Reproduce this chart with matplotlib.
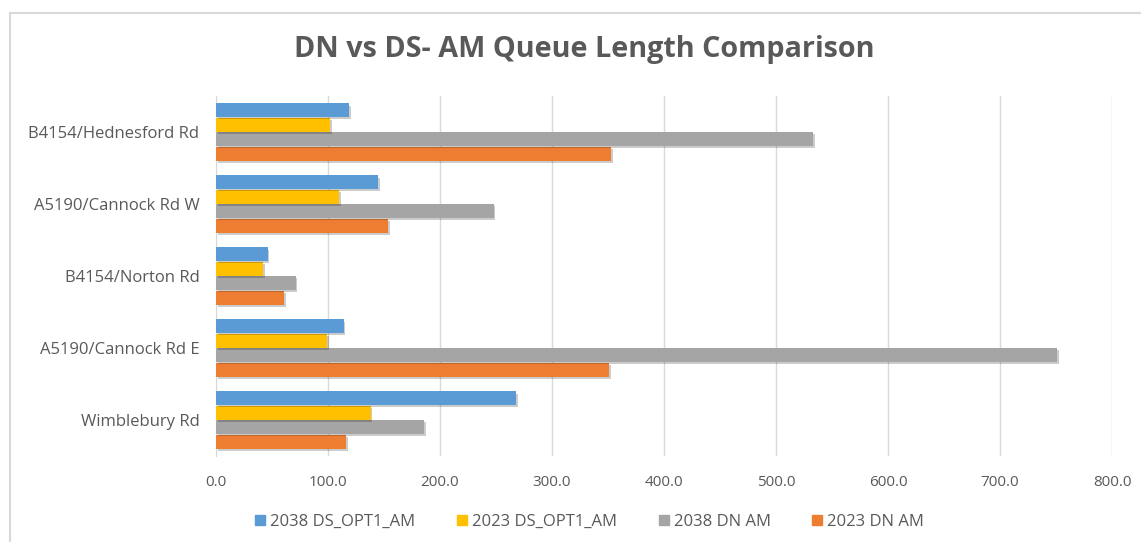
import matplotlib
matplotlib.use("Agg")
import matplotlib.pyplot as plt
import matplotlib.patheffects as pe
from matplotlib.lines import Line2D
import numpy as np

categories = ["Wimblebury Rd", "A5190/Cannock Rd E", "B4154/Norton Rd",
              "A5190/Cannock Rd W", "B4154/Hednesford Rd"]
series_names = ["2023 DN AM", "2038 DN AM", "2023 DS_OPT1_AM", "2038 DS_OPT1_AM"]
dn_2023 = [116, 351, 61, 154, 353]
dn_2038 = [186, 751, 71, 248, 533]
ds_2023 = [138, 99, 42, 110, 102]
ds_2038 = [268, 114, 46, 145, 119]
colors = ["#ED7D31", "#A5A5A5", "#FFC000", "#5B9BD5"]
xticks = [0, 100, 200, 300, 400, 500, 600, 700, 800]
title = "DN vs DS- AM Queue Length Comparison"

font = "Open Sans"
txt = "#595959"

W, H = 1141, 542
fig = plt.figure(figsize=(W / 100, H / 100), dpi=100)
ax = fig.add_axes([216 / W, 1 - 456 / H, (1112 - 216) / W, (456 - 96) / H])

y = np.arange(len(categories))
h = 0.2
data = [dn_2023, dn_2038, ds_2023, ds_2038]
for i, (vals, c, name) in enumerate(zip(data, colors, series_names)):
    offs = (i - 1.5) * h
    ax.barh(y + offs, vals, height=h * 0.96, color=c, label=name, zorder=3,
            path_effects=[pe.SimplePatchShadow(offset=(1.2, -1.5), shadow_rgbFace="#000000", alpha=0.2),
                          pe.Normal()])

ax.set_xlim(0, 800)
ax.set_ylim(-0.5, len(categories) - 0.5)
ax.set_xticks(xticks)
ax.set_xticklabels([f"{v:.1f}" for v in xticks], fontsize=11, color=txt, fontfamily=font)
ax.set_yticks(y)
ax.set_yticklabels(categories, fontsize=12, color=txt, fontfamily=font)
ax.tick_params(axis="both", length=0)
ax.tick_params(axis="y", pad=12)
ax.tick_params(axis="x", pad=14)
ax.grid(axis="x", color="#D9D9D9", linewidth=1, zorder=0)
for s in ["top", "right", "bottom"]:
    ax.spines[s].set_visible(False)
ax.spines["left"].set_color("#D9D9D9")
ax.set_axisbelow(True)

fig.text(584 / W, 1 - 50 / H, title, ha="center", va="center", fontsize=20.7,
         fontweight="bold", color=txt, fontfamily=font)

handles = [Line2D([], [], marker="s", linestyle="none", markersize=7,
                  markerfacecolor=colors[i], markeredgecolor=colors[i]) for i in [3, 2, 1, 0]]
labels = [series_names[i] for i in [3, 2, 1, 0]]
leg = fig.legend(handles, labels, loc="center", bbox_to_anchor=(586 / W, 1 - 522 / H), ncol=4,
                 frameon=False, handletextpad=-0.15, columnspacing=2.05, handlelength=1.5,
                 prop={"family": font, "size": 12})
for t in leg.get_texts():
    t.set_color(txt)

# chart border
fig.add_artist(Line2D([10 / W, 1], [1 - 13 / H, 1 - 13 / H], color="#D9D9D9", lw=1.5, transform=fig.transFigure))
fig.add_artist(Line2D([10 / W, 10 / W], [0, 1 - 13 / H], color="#D9D9D9", lw=1.5, transform=fig.transFigure))

fig.savefig("out.png", dpi=100, facecolor="white")
